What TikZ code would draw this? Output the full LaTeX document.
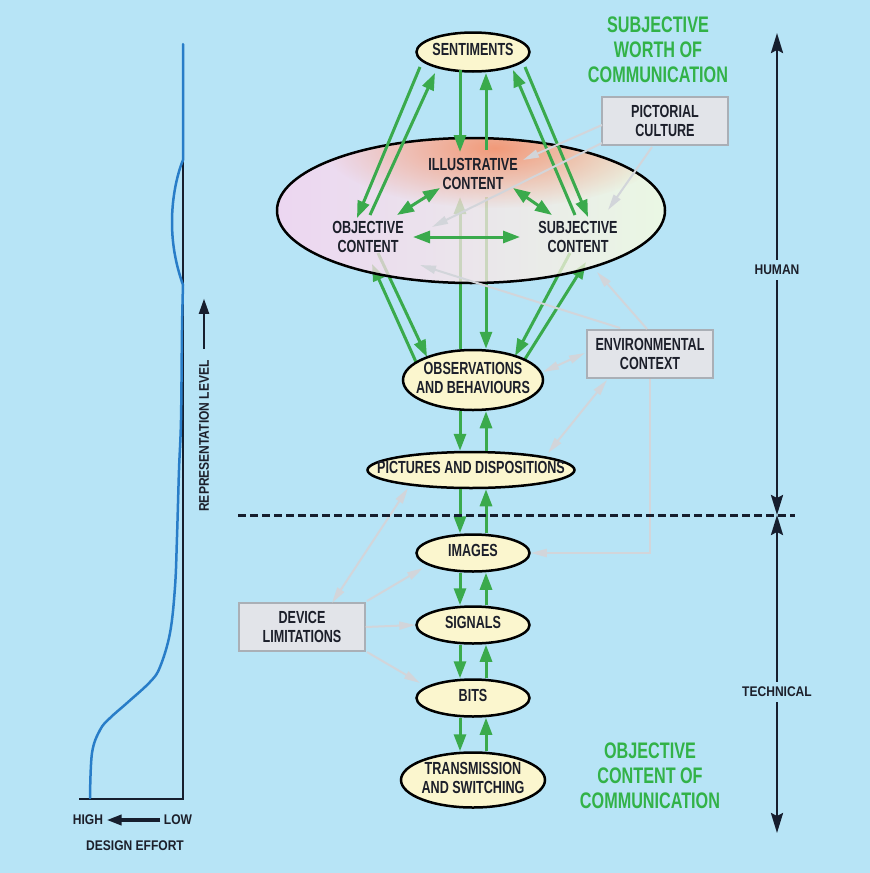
\documentclass[tikz,border=0pt]{standalone}
\usepackage{fontspec}
\setmainfont{Liberation Sans}[FakeStretch=0.72]
\newfontfamily\axisfont{Liberation Sans}[FakeStretch=0.86]
\usetikzlibrary{arrows.meta,shapes.geometric,calc,fadings}

\definecolor{panel}{RGB}{183,228,246}
\definecolor{ink}{RGB}{28,31,42}
\definecolor{axisblue}{RGB}{22,30,46}
\definecolor{flow}{RGB}{58,170,76}
\definecolor{headline}{RGB}{50,178,72}
\definecolor{haze}{RGB}{210,213,218}
\definecolor{boxfill}{RGB}{226,228,233}
\definecolor{boxline}{RGB}{170,175,182}
\definecolor{stagefill}{RGB}{251,246,206}
\definecolor{curve}{RGB}{40,125,200}
\definecolor{lilac}{RGB}{255,210,240}
\definecolor{mint}{RGB}{252,255,222}
\definecolor{salmon}{RGB}{242,150,115}

\tikzfading[name=glow, inner color=transparent!0, outer color=transparent!100]

% label of fixed-size ellipse, text does not widen the shape
\newcommand{\stagetext}[1]{\makebox[0pt]{\begin{tabular}{@{}c@{}}#1\end{tabular}}}

\pgfdeclarelayer{panel}
\pgfdeclarelayer{under}
\pgfdeclarelayer{veil}
\pgfsetlayers{panel,under,veil,main}

\tikzset{
  stage/.style={ellipse, draw=black, line width=2.5pt, fill=stagefill, inner sep=0pt,
    text=ink, font=\fontsize{17.5}{19}\selectfont\bfseries},
  factor/.style={rectangle, draw=boxline, line width=1.5pt, fill=boxfill,
    minimum width=126pt, minimum height=48pt, align=center, text=ink,
    font=\fontsize{17.5}{19}\selectfont\bfseries},
  content/.style={align=center, inner sep=0pt, text=ink,
    font=\fontsize{17.5}{19}\selectfont\bfseries},
  worth/.style={align=center, text=headline, font=\fontsize{22.5}{25}\selectfont\bfseries},
  tag/.style={text=ink, font=\axisfont\fontsize{14}{16}\selectfont\bfseries},
  flowline/.style={draw=flow, line width=3pt, >={Triangle[length=17pt,width=12pt]}},
  hazeline/.style={draw=haze, line width=2pt, >={Triangle[length=16pt,width=8pt]}},
  axisline/.style={draw=axisblue, line width=2.5pt, >={Stealth[length=20pt,width=12pt,inset=3pt]}},
  pointer/.style={draw=axisblue, >={Triangle[length=15pt,width=10pt]}},
}

\begin{document}
\begin{tikzpicture}[x=1pt, y=1pt]

    \begin{pgfonlayer}{panel}
    \fill[panel] (0,0) rectangle (870,-873);
    \end{pgfonlayer}
    \useasboundingbox (0,0) rectangle (870,-873);

    % design effort curve
    \draw[line width=2.5pt, axisblue] (79,-799) -- (183,-799) -- (183,-44);
    \draw[line width=2.5pt, curve, line cap=round]
    plot[smooth, tension=0.6] coordinates {
      (90,-798) (92,-753) (100,-730) (110,-718) (127,-703) (150,-682)
      (160,-667) (170,-633) (175,-587) (177,-537) (179,-470) (181,-420)
      (182,-330) (183,-285)}
    .. controls (176,-265) and (172,-245) .. (172,-222)
    .. controls (172,-195) and (178,-172) .. (183,-160)
    -- (183,-44);

    \node[tag, rotate=90] (replevel) at (204,-436) {REPRESENTATION LEVEL};
    \draw[pointer, line width=2pt, ->] ($(replevel.east)+(0,8)$) -- ++(0,50);

    \node[tag] (high) at (88,-820) {HIGH};
    \node[tag] (low) at (178,-820) {LOW};
    \draw[pointer, line width=3.5pt, ->] (low) -- (high);
    \node[tag] (effort) at (135,-846) {DESIGN EFFORT};

    % stages
    \node[stage, minimum width=113pt, minimum height=39pt] (sent) at (473,-52) {\stagetext{SENTIMENTS}};
    \node[content] (illu) at (473,-174) {ILLUSTRATIVE\\CONTENT};
    \node[content] (objc) at (368,-237) {OBJECTIVE\\CONTENT};
    \node[content] (subc) at (578,-237) {SUBJECTIVE\\CONTENT};
    \node[stage, minimum width=140pt, minimum height=60pt] (obs) at (473,-380) {\stagetext{OBSERVATIONS\\AND BEHAVIOURS}};
    \node[stage, minimum width=207pt, minimum height=36pt] (pict) at (471,-470) {\stagetext{PICTURES AND DISPOSITIONS}};
    \node[stage, minimum width=113pt, minimum height=37pt] (imgs) at (473,-553) {\stagetext{IMAGES}};
    \node[stage, minimum width=113pt, minimum height=37pt] (sig) at (473,-625) {\stagetext{SIGNALS}};
    \node[stage, minimum width=113pt, minimum height=37pt] (bits) at (473,-698) {\stagetext{BITS}};
    \node[stage, minimum width=144pt, minimum height=55pt] (trans) at (473,-780) {\stagetext{TRANSMISSION\\AND SWITCHING}};

    % outside factors
    \node[factor] (cult) at (665,-121) {PICTORIAL\\CULTURE};
    \node[factor] (env) at (650,-354) {ENVIRONMENTAL\\CONTEXT};
    \node[factor] (dev) at (302,-627) {DEVICE\\LIMITATIONS};

    \node[worth] (subworth) at (658,-50) {SUBJECTIVE\\WORTH OF\\COMMUNICATION};
    \node[worth] (objworth) at (650,-776) {OBJECTIVE\\CONTENT OF\\COMMUNICATION};

    % arrows seen through the content ellipse
    \begin{pgfonlayer}{under}
    \draw[flowline, ->] ($(illu)+(13,-23)$) -- ([xshift=13]obs.north);
    \draw[flowline, ->] ([xshift=-13]obs.north) -- ($(illu)+(-13,-23)$);
    \draw[flowline, ->] ($(objc)+(10,-16)$) -- ($(obs)+(-46,23)$);
    \draw[flowline, ->] ($(obs)+(-57,18)$) -- ($(objc)+(4,-27)$);
    \draw[flowline, ->] ($(subc)+(-8,-16)$) -- ($(obs)+(42,24)$);
    \draw[flowline, ->] ($(obs)+(52,21)$) -- ($(subc)+(8,-25)$);
    \end{pgfonlayer}

    \begin{pgfonlayer}{veil}
    \begin{scope}[transparency group, opacity=0.74]
      \clip (471,-210.5) ellipse (194 and 72.5);
      \shade[left color=lilac, right color=mint, middle color=lilac!55!mint] (277,-138) rectangle (665,-283);
    \end{scope}
    \begin{scope}
      \clip (471,-210.5) ellipse (194 and 72.5);
      \fill[salmon, path fading=glow, fill opacity=0.95] (495,-148) ellipse (170 and 60);
    \end{scope}
    \draw[line width=2.5pt, black] (471,-210.5) ellipse (194 and 72.5);
    \end{pgfonlayer}

    % sentiments to the content
    \draw[flowline, ->] ($(sent)+(-53,-15)$) -- ($(objc)+(-11,19)$);
    \draw[flowline, ->] ($(objc)+(2,22)$) -- ($(sent)+(-38,-21)$);
    \draw[flowline, ->] ($(sent)+(-13,-18)$) -- ($(illu)+(-13,22)$);
    \draw[flowline, ->] ($(illu)+(13,24)$) -- ($(sent)+(13,-21)$);
    \draw[flowline, ->] ($(subc)+(-3,22)$) -- ($(sent)+(40,-18)$);
    \draw[flowline, ->] ($(sent)+(52,-15)$) -- ($(subc)+(10,20)$);
    \draw[flowline, <->] ($(illu)+(-33,-14)$) -- ($(objc)+(29,22)$);
    \draw[flowline, <->] ($(illu)+(40,-14)$) -- ($(subc)+(-26,22)$);
    \draw[flowline, <->] ($(objc)+(45,0)$) -- ($(subc)+(-58,0)$);

    % down the chain and back up
    \draw[flowline, ->] ([xshift=-13]obs.south) -- ([xshift=-11]pict.north);
    \draw[flowline, ->] ([xshift=15]pict.north) -- ([xshift=13]obs.south);
    \draw[flowline, ->] ([xshift=-11]pict.south) -- ([xshift=-13]imgs.north);
    \draw[flowline, ->] ([xshift=13]imgs.north) -- ([xshift=15]pict.south);
    \draw[flowline, ->] ([xshift=-13]imgs.south) -- ([xshift=-13]sig.north);
    \draw[flowline, ->] ([xshift=13]sig.north) -- ([xshift=13]imgs.south);
    \draw[flowline, ->] ([xshift=-13]sig.south) -- ([xshift=-13]bits.north);
    \draw[flowline, ->] ([xshift=13]bits.north) -- ([xshift=13]sig.south);
    \draw[flowline, ->] ([xshift=-13]bits.south) -- ([xshift=-13]trans.north);
    \draw[flowline, ->] ([xshift=13]trans.north) -- ([xshift=13]bits.south);

    % influences
    \draw[hazeline, ->] ($(cult)+(-63,-4)$) -- ($(illu)+(50,14)$);
    \draw[hazeline, ->] ($(cult)+(-63,-22)$) -- ($(objc)+(64,10)$);
    \draw[hazeline, ->] ($(cult)+(-13,-26)$) -- ($(subc)+(30,27)$);
    \draw[hazeline, ->] ($(env)+(-30,26)$) -- ($(objc)+(52,-28)$);
    \draw[hazeline, ->] ($(env)+(-3,25)$) -- ($(subc)+(19,-35)$);
    \draw[hazeline, <->] ($(env)+(-65,1)$) -- ($(obs)+(70,8)$);
    \draw[hazeline, <->] ($(env)+(-43,-26)$) -- ($(pict)+(77,17)$);
    \draw[hazeline, ->] (env.south) |- (imgs.east);
    \draw[hazeline, <->] ($(dev)+(30,24)$) -- ($(pict)+(-63,-18)$);
    \draw[hazeline, ->] ($(dev)+(65,26)$) -- ($(imgs)+(-50,-15)$);
    \draw[hazeline, ->] (dev.east) -- (sig.west);
    \draw[hazeline, ->] ($(dev)+(65,-25)$) -- ($(bits)+(-53,15)$);

    % human / technical split
    \draw[axisblue, line width=3pt, dash pattern=on 8pt off 4pt] (238,-515) -- (795,-515);
    \draw[axisline, <->] (777,-33) -- (777,-515);
    \draw[axisline, <->] (777,-515) -- (777,-833);
    \node[tag, fill=panel, inner xsep=1pt, inner ysep=5pt] (human) at (777,-270) {HUMAN};
    \node[tag, fill=panel, inner xsep=1pt, inner ysep=5pt] (tech) at (777,-692) {TECHNICAL};

\end{tikzpicture}
\end{document}
